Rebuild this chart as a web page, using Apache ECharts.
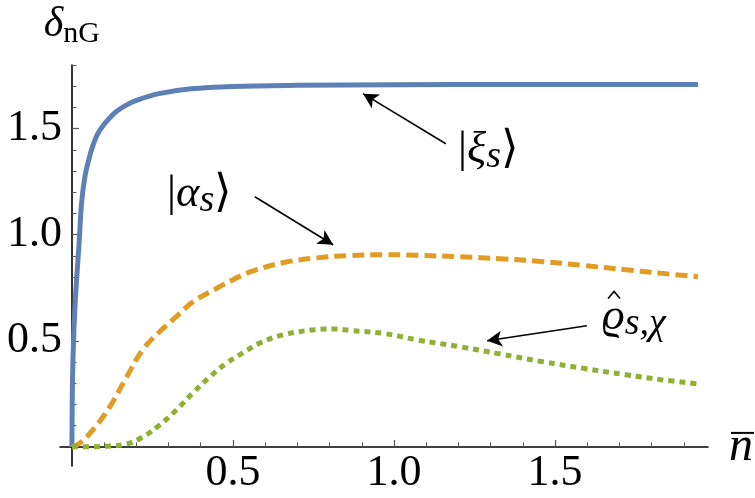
<!DOCTYPE html>
<html>
<head>
<meta charset="utf-8">
<script src="https://cdn.jsdelivr.net/npm/echarts@6/dist/echarts.min.js"></script>
<style>html,body{margin:0;padding:0;background:#fff;}#c{width:755px;height:498px;}</style>
</head>
<body>
<div id="c"></div>
<script>
// ---- data ----
const blueX = [0, 0.001, 0.002, 0.005, 0.009, 0.015, 0.022, 0.03, 0.04, 0.05, 0.065, 0.08, 0.097, 0.12, 0.14, 0.17, 0.2, 0.27, 0.37, 0.5, 0.7, 1.0, 1.4, 1.944];
const blueY = [0, 0.22, 0.33, 0.5, 0.646, 0.8, 0.953, 1.15, 1.27, 1.34, 1.42, 1.475, 1.515, 1.555, 1.583, 1.612, 1.633, 1.665, 1.688, 1.699, 1.704, 1.707, 1.708, 1.708];
const orangeX = [0, 0.025, 0.065, 0.118, 0.17, 0.22, 0.273, 0.325, 0.376, 0.45, 0.5, 0.553, 0.655, 0.76, 0.863, 0.967, 1.07, 1.205, 1.33, 1.463, 1.59, 1.72, 1.83, 1.944];
const orangeY = [0, 0.019, 0.08, 0.19, 0.33, 0.458, 0.544, 0.615, 0.684, 0.748, 0.788, 0.825, 0.868, 0.891, 0.902, 0.906, 0.903, 0.896, 0.887, 0.873, 0.855, 0.835, 0.818, 0.802];
const greenX = [0, 0.06, 0.118, 0.17, 0.22, 0.273, 0.325, 0.376, 0.428, 0.481, 0.531, 0.584, 0.655, 0.76, 0.81, 0.863, 0.967, 1.07, 1.205, 1.33, 1.463, 1.59, 1.72, 1.83, 1.944];
const greenY = [0, 0.001, 0.004, 0.014, 0.047, 0.104, 0.175, 0.255, 0.33, 0.396, 0.443, 0.49, 0.528, 0.553, 0.556, 0.549, 0.535, 0.505, 0.472, 0.438, 0.401, 0.37, 0.34, 0.317, 0.297];

const xMajorTicks = [0.5, 1.0, 1.5];
const xMinorTicks = [0.1, 0.2, 0.3, 0.4, 0.6, 0.7, 0.8, 0.9, 1.1, 1.2, 1.3, 1.4, 1.6, 1.7, 1.8, 1.9];
const yMajorTicks = [0.5, 1.0, 1.5];
const yMinorTicks = [0.1, 0.2, 0.3, 0.4, 0.6, 0.7, 0.8, 0.9, 1.1, 1.2, 1.3, 1.4, 1.6, 1.7, 1.8];

// annotation arrows: [fromX, fromY, toX, toY]
const arrowXi = [1.161, 1.429, 0.904, 1.665];
const arrowAlpha = [0.568, 1.179, 0.811, 0.953];
const arrowRho = [1.599, 0.571, 1.289, 0.500];
// annotation label anchors (left, vertical middle)
const labelXi = [1.199, 1.40];
const labelAlpha = [0.295, 1.193];
const labelRho = [1.646, 0.61];

const SERIF = 'Liberation Serif, Tinos, Times New Roman, serif';
const pairs = (xs, ys) => xs.map((x, i) => [x, ys[i]]);
const arrow = a => [{coord: [a[0], a[1]], symbol: 'none'}, {coord: [a[2], a[3]], symbol: 'arrow'}];
const fmt = v => v.toFixed(1);

const chart = echarts.init(document.getElementById('c'), null, {renderer: 'canvas'});
const XMIN = -0.037, XMAX = 1.975, YMIN = -0.09, YMAX = 1.8;

const option = {
  backgroundColor: '#fff',
  animation: false,
  textStyle: {fontFamily: SERIF},
  grid: {left: 60, right: 47, top: 65, bottom: 32, containLabel: false, outerBoundsMode: 'none'},
  xAxis: [
    {type: 'value', min: XMIN, max: XMAX, position: 'bottom',
     axisLine: {show: true, onZero: true, onZeroAxisIndex: 0, lineStyle: {color: '#000', width: 1.6}},
     axisTick: {show: true, inside: true, length: 7, customValues: xMajorTicks, lineStyle: {color: '#555', width: 1.2}},
     axisLabel: {show: true, customValues: xMajorTicks, formatter: fmt, fontFamily: SERIF, fontStyle: 'normal', fontSize: 44, lineHeight: 44, color: '#000', margin: -15},
     splitLine: {show: false},
     name: 'n', nameLocation: 'end', nameGap: 21,
     nameTextStyle: {fontFamily: SERIF, fontStyle: 'italic', fontSize: 48, color: '#000', padding: [12, 0, 0, 0]}
    },
    {type: 'value', min: XMIN, max: XMAX, position: 'bottom',
     axisLine: {show: false, onZero: true, onZeroAxisIndex: 0},
     axisTick: {show: true, inside: true, length: 4.5, customValues: xMinorTicks, lineStyle: {color: '#555', width: 1.1}},
     axisLabel: {show: false}, splitLine: {show: false}}
  ],
  yAxis: [
    {type: 'value', min: YMIN, max: YMAX, position: 'left',
     axisLine: {show: true, onZero: true, onZeroAxisIndex: 0, lineStyle: {color: '#000', width: 1.6}},
     axisTick: {show: true, inside: true, length: 7, customValues: yMajorTicks, lineStyle: {color: '#555', width: 1.2}},
     axisLabel: {show: true, customValues: yMajorTicks, formatter: fmt, fontFamily: SERIF, fontStyle: 'normal', fontSize: 44, color: '#000', margin: -2},
     splitLine: {show: false},
     name: '{d|δ}{s|nG}', nameLocation: 'end', nameGap: 16,
     nameTextStyle: {
       rich: {
         d: {fontFamily: SERIF, fontStyle: 'italic', fontSize: 42, color: '#000'},
         s: {fontFamily: SERIF, fontSize: 30, color: '#000', padding: [18, 0, 0, 0]}
       }
     }
    },
    {type: 'value', min: YMIN, max: YMAX, position: 'left',
     axisLine: {show: false, onZero: true, onZeroAxisIndex: 0},
     axisTick: {show: true, inside: true, length: 4.5, customValues: yMinorTicks, lineStyle: {color: '#555', width: 1.1}},
     axisLabel: {show: false}, splitLine: {show: false}}
  ],
  series: [
    {type: 'line', name: 'xi', data: pairs(blueX, blueY), showSymbol: false, smooth: 0.35,
     lineStyle: {color: '#5E81B5', width: 5}, z: 3},
    {type: 'line', name: 'alpha', data: pairs(orangeX, orangeY), showSymbol: false, smooth: 0.4,
     lineStyle: {color: '#E19C24', width: 5, type: [12, 6], cap: 'butt'}, z: 3,
     markLine: {silent: true, animation: false, symbolSize: [12, 15],
       label: {show: false},
       lineStyle: {color: '#000', width: 1.6, type: 'solid'},
       data: [arrow(arrowXi), arrow(arrowAlpha), arrow(arrowRho)]}
    },
    {type: 'line', name: 'rho', data: pairs(greenX, greenY), showSymbol: false, smooth: 0.4,
     lineStyle: {color: '#8FB032', width: 5, type: [6, 5], cap: 'butt'}, z: 3}
  ]
};

function px(p) { return chart.convertToPixel({xAxisIndex: 0, yAxisIndex: 0}, p); }
const tok = (size, italic, pad) => ({fontFamily: SERIF, fontSize: size, fontStyle: italic ? 'italic' : 'normal', fill: '#000', padding: pad || 0});
const richSet = {b: tok(40, false), i: tok(40, true), s: tok(34, true, [12, 0, 0, 0])};
function label(pos, text) {
  const p = px(pos);
  return {type: 'text', x: p[0], y: p[1], z: 10, scaleX: 1.12, scaleY: 1.12,
    style: {text: text, verticalAlign: 'middle', fontFamily: SERIF, fontSize: 40, fill: '#000', rich: richSet}};
}

function render() {
  chart.setOption(option, true);
  const endPx = px([XMAX, 0]);
  const rhoPx = px(labelRho);
  chart.setOption({
    graphic: [
      label(labelXi, '{b||}{i|ξ}{s|s}{b|⟩}'),
      label(labelAlpha, '{b||}{i|α}{s|s}{b|⟩}'),
      label(labelRho, '{i|ϱ}{s|s,χ}'),
      {type: 'polyline', z: 10, shape: {points: [[rhoPx[0] + 6, rhoPx[1] - 19], [rhoPx[0] + 12, rhoPx[1] - 26], [rhoPx[0] + 18, rhoPx[1] - 19]]},
       style: {stroke: '#000', lineWidth: 1.6, fill: null}},
      {type: 'line', z: 10, shape: {x1: endPx[0] + 23, y1: endPx[1] - 14, x2: endPx[0] + 46, y2: endPx[1] - 14},
       style: {stroke: '#000', lineWidth: 2}}
    ]
  });
}
render();
// redraw once the serif faces are loaded so that text picks them up
if (document.fonts && document.fonts.load) {
  Promise.all([
    document.fonts.load('44px "Liberation Serif"', '1.05'),
    document.fonts.load('italic 44px "Liberation Serif"', 'nξαϱχs')
  ]).then(render, render);
}
setTimeout(render, 150);
</script>
</body>
</html>
